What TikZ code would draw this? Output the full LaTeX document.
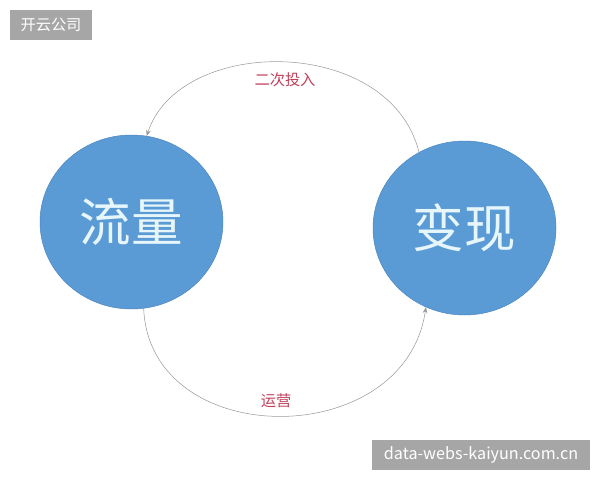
\documentclass[tikz,border=0pt]{standalone}
\usepackage{fontspec}
\newfontfamily\cjk{Noto Sans CJK SC}
\usetikzlibrary{arrows.meta,shapes.geometric}
\definecolor{Flow}{HTML}{5B9BD5}
\definecolor{FlowEdge}{HTML}{4A84BE}
\definecolor{Glyph}{HTML}{E6F6FA}
\definecolor{Arc}{HTML}{9A9A9A}
\definecolor{Tag}{HTML}{C0405A}
\definecolor{Badge}{HTML}{A6A6A6}
\tikzset{
  stage/.style={
    ellipse, fill=Flow, draw=FlowEdge, line width=0.4pt,
    minimum width=5.49cm, minimum height=5.22cm, inner sep=0pt,
    text=Glyph, font=\cjk\fontsize{44}{46}\selectfont
  },
  loop/.style={-{Stealth[length=1.8mm,width=1.4mm]}, draw=Arc, line width=0.45pt},
  tag/.style={text=Tag, inner sep=0pt, font=\cjk\fontsize{13}{15}\selectfont},
  badge/.style={
    fill=Badge, text=white, inner sep=0pt,
    minimum height=0.9cm, font=\cjk\fontsize{13}{15}\selectfont
  }
}
\begin{document}
\begin{tikzpicture}[x=0.03cm,y=-0.03cm]
  \useasboundingbox (0,0) rectangle (600,480);
  % the two stages
  \node[stage] (liuliang) at (131.5,222) {流量};
  \node[stage] (bianxian) at (464.5,228) {变现};
  % loop between them
  \draw[loop] (bianxian.121) .. controls (390,35) and (180,35) .. (liuliang.80);
  \draw[loop] (liuliang.-82) .. controls (150,452) and (405,452) .. (bianxian.-116);
  \node[tag] (touru) at (285,80) {二次投入};
  \node[tag] (yunying) at (276,401) {运营};
  % watermarks
  \node[badge, minimum width=2.46cm] (gongsi) at (51,25) {开云公司};
  \node[badge, minimum width=6.54cm, font=\cjk\fontsize{13.8}{16}\selectfont] (wangzhi) at (481,455) {data-webs-kaiyun.com.cn};
\end{tikzpicture}
\end{document}
